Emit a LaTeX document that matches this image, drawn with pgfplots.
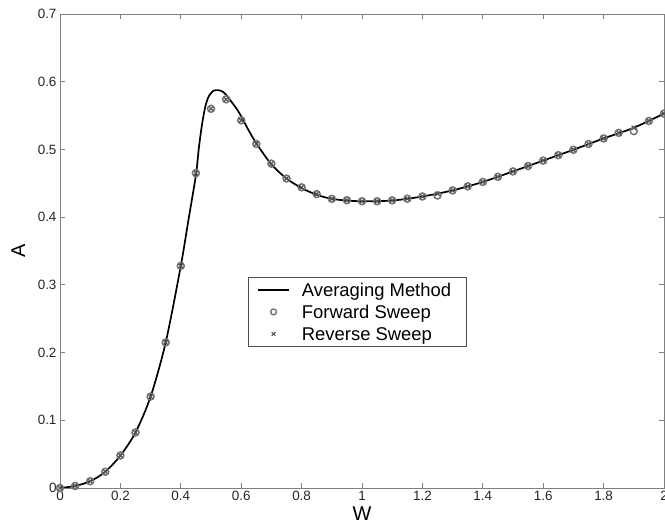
\documentclass[border=0pt]{standalone}
\usepackage{fontspec}
\setmainfont{Liberation Sans}
\usepackage{pgfplots}
\pgfplotsset{compat=1.18}
\usetikzlibrary{calc}
\pgfplotsset{
  myline legend/.style={legend image code/.code={\draw[##1] (0bp,0bp) -- (31bp,0bp);}},
  mycirc legend/.style={legend image code/.code={\draw[##1, mark size=2.9bp, line width=1.4bp] plot coordinates {(15.5bp,0bp)};}},
  mycross legend/.style={legend image code/.code={\draw[##1, mark size=2.6bp, line width=1.2bp] plot coordinates {(15.5bp,0bp)};}},
}
\begin{document}
\begin{tikzpicture}
\begin{axis}[
  scale only axis,
  width=604bp, height=474bp,
  xmin=0, xmax=2, ymin=0, ymax=0.7,
  xtick={0,0.2,...,2}, ytick={0,0.1,...,0.7},
  xticklabels={0,0.2,0.4,0.6,0.8,1,1.2,1.4,1.6,1.8,2},
  yticklabels={0,0.1,0.2,0.3,0.4,0.5,0.6,0.7},
  tick align=inside, major tick length=5bp,
  axis line style={black!50, line width=0.9bp},
  every tick/.style={black!50, line width=0.8bp},
  tick label style={font=\fontsize{13.5}{15}\selectfont, black!85},
  /pgf/number format/assume math mode=true,
  xlabel={W}, ylabel={A},
  label style={font=\fontsize{20}{22}\selectfont},
  xlabel style={at={(axis description cs:0.5,-0.055)}, anchor=center},
  ylabel style={at={(axis description cs:-0.069,0.5)}, anchor=center},
  legend style={at={(rel axis cs:0.311,0.445)}, anchor=north west,
    font=\fontsize{18.5}{20}\selectfont, draw=black!70, line width=0.7bp,
    inner xsep=9bp, inner ysep=1.5bp, row sep=0bp, column sep=6bp,
    nodes={text height=15bp, text depth=2bp, inner ysep=2.5bp, inner xsep=6bp}},
  legend cell align=left,
]
\addplot[black, line width=1.7bp, smooth, tension=0.5, myline legend] coordinates {
(0,0) (0.05,0.003) (0.1,0.010) (0.15,0.024) (0.2,0.048) (0.25,0.082)
(0.3,0.135) (0.35,0.215) (0.4,0.328) (0.425,0.395) (0.45,0.462)
(0.46,0.503) (0.47,0.536) (0.48,0.561) (0.49,0.576) (0.50,0.583)
(0.51,0.587) (0.525,0.5875) (0.54,0.585) (0.555,0.578) (0.57,0.569)
(0.585,0.560) (0.6,0.549) (0.62,0.532) (0.65,0.509) (0.7,0.478)
(0.75,0.457) (0.8,0.443) (0.85,0.433) (0.9,0.427) (0.95,0.4245)
(1.0,0.4235) (1.1,0.4245) (1.2,0.4305) (1.3,0.4395) (1.4,0.452)
(1.5,0.4675) (1.6,0.4835) (1.7,0.4995) (1.8,0.5162) (1.9,0.532) (2.0,0.553)
};
\addlegendentry{Averaging Method}
\addplot[only marks, mark=o, mark size=3.5bp, black!55, line width=1.5bp, mycirc legend] coordinates {
(0,0) (0.05,0.003) (0.1,0.010) (0.15,0.024) (0.2,0.048) (0.25,0.082)
(0.3,0.135) (0.35,0.215) (0.4,0.328) (0.45,0.465) (0.5,0.560) (0.55,0.574)
(0.6,0.543) (0.65,0.508) (0.7,0.479) (0.75,0.457) (0.8,0.444) (0.85,0.434)
(0.9,0.427) (0.95,0.425) (1.0,0.4235) (1.05,0.4235) (1.1,0.4248) (1.15,0.4272)
(1.2,0.4305) (1.25,0.432) (1.3,0.4395) (1.35,0.4455) (1.4,0.452) (1.45,0.4595)
(1.5,0.4675) (1.55,0.4755) (1.6,0.4835) (1.65,0.4915) (1.7,0.4995) (1.75,0.508)
(1.8,0.5162) (1.85,0.5245) (1.9,0.527) (1.95,0.542) (2.0,0.553)
};
\addlegendentry{Forward Sweep}
\addplot[only marks, mark=x, mark size=3bp, black!65, line width=1.3bp, mycross legend] coordinates {
(0,0) (0.05,0.003) (0.1,0.010) (0.15,0.024) (0.2,0.048) (0.25,0.082)
(0.3,0.135) (0.35,0.215) (0.4,0.328) (0.45,0.465) (0.5,0.560) (0.55,0.574)
(0.6,0.543) (0.65,0.508) (0.7,0.479) (0.75,0.457) (0.8,0.444) (0.85,0.434)
(0.9,0.427) (0.95,0.425) (1.0,0.4235) (1.05,0.4235) (1.1,0.4248) (1.15,0.4272)
(1.2,0.4305) (1.25,0.4345) (1.3,0.4395) (1.35,0.4455) (1.4,0.452) (1.45,0.4595)
(1.5,0.4675) (1.55,0.4755) (1.6,0.4835) (1.65,0.4915) (1.7,0.4995) (1.75,0.508)
(1.8,0.5162) (1.85,0.5245) (1.9,0.532) (1.95,0.542) (2.0,0.553)
};
\addlegendentry{Reverse Sweep}
\end{axis}
\pgfresetboundingbox
\path[use as bounding box] ($(current axis.south west)+(-60bp,-44bp)$) rectangle ($(current axis.north east)+(1bp,14bp)$);
\end{tikzpicture}
\end{document}
